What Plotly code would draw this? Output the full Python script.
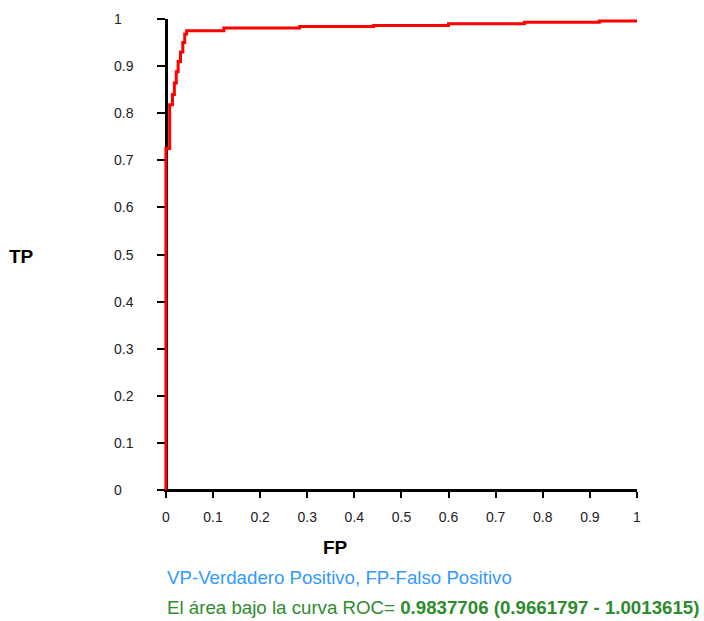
import plotly.graph_objects as go

# ROC curve vertices (false positive rate, true positive rate)
fpr = [0.0, 0.008, 0.014, 0.018, 0.022, 0.026, 0.031, 0.036, 0.040, 0.044,
       0.123, 0.284, 0.441, 0.600, 0.761, 0.920, 1.000]
tpr = [0.0, 0.725, 0.818, 0.840, 0.864, 0.888, 0.910, 0.930, 0.950, 0.968,
       0.975, 0.981, 0.984, 0.986, 0.990, 0.993, 0.996]

tick_vals = [i / 10 for i in range(11)]
tick_text = ["0", "0.1", "0.2", "0.3", "0.4", "0.5", "0.6", "0.7", "0.8", "0.9", "1"]

legend_note = "VP-Verdadero Positivo, FP-Falso Positivo"
auc_prefix = "El área bajo la curva ROC= "
auc_value = "0.9837706 (0.9661797 - 1.0013615)"

W, H = 704, 621
# pixel frame of the plotting area
x0_px, x1_px = 166.0, 637.5
y0_px, y1_px = 490.0, 18.5
pad = 0.004
unit_x = x1_px - x0_px
unit_y = y0_px - y1_px
left = x0_px - pad * unit_x
bottom = y0_px + pad * unit_y

FONT = "Liberation Sans, Arial, sans-serif"

fig = go.Figure()
fig.add_trace(go.Scatter(
    x=fpr, y=tpr, mode="lines", line=dict(color="#ff0000", width=3, shape="vh"),
    hoverinfo="skip", showlegend=False,
))

axis_pos = pad / (1 + pad)
tick_font = dict(family=FONT, size=14, color="#222222")

fig.update_layout(
    width=W, height=H,
    margin=dict(l=left, r=W - x1_px, t=y1_px, b=H - bottom, pad=0),
    paper_bgcolor="white", plot_bgcolor="white",
    xaxis=dict(range=[-pad, 1.0], tickvals=tick_vals, ticktext=tick_text,
               showgrid=False, zeroline=False, showline=True, linecolor="black",
               linewidth=2.5, ticks="outside", ticklen=6, tickwidth=2, tickcolor="black",
               tickfont=tick_font, anchor="free", position=axis_pos,
               layer="below traces", ticklabelstandoff=7),
    yaxis=dict(range=[-pad, 1.0], tickvals=tick_vals,
               showgrid=False, zeroline=False, showline=True, linecolor="black",
               linewidth=2.5, ticks="outside", ticklen=8, tickwidth=2, tickcolor="black",
               showticklabels=False, anchor="free", position=axis_pos,
               layer="below traces"),
)


def px_to_paper_x(px):
    return (px - left) / (x1_px - left)


def px_to_paper_y(py):
    return (bottom - py) / (bottom - y1_px)


# left-aligned labels for the TP axis
for v, t in zip(tick_vals, tick_text):
    fig.add_annotation(
        text=t, x=px_to_paper_x(112), y=v, xref="paper", yref="y",
        xanchor="left", yanchor="middle", showarrow=False, font=tick_font,
    )


def add_text(text, px, py, xanchor, size, color, bold=False):
    fig.add_annotation(
        text=f"<b>{text}</b>" if bold else text,
        x=px_to_paper_x(px), y=px_to_paper_y(py),
        xref="paper", yref="paper", xanchor=xanchor, yanchor="middle",
        showarrow=False,
        font=dict(family=FONT, size=size, color=color),
    )


add_text("TP", 21, 256, "center", 19, "black", bold=True)
add_text("FP", 336, 547, "center", 19, "black", bold=True)
add_text(legend_note, 165, 577, "left", 18.7, "#3399ff")
add_text(f"{auc_prefix}<b>{auc_value}</b>", 165, 607, "left", 18.7, "#2e8b2e")

fig.write_html("out.html")
